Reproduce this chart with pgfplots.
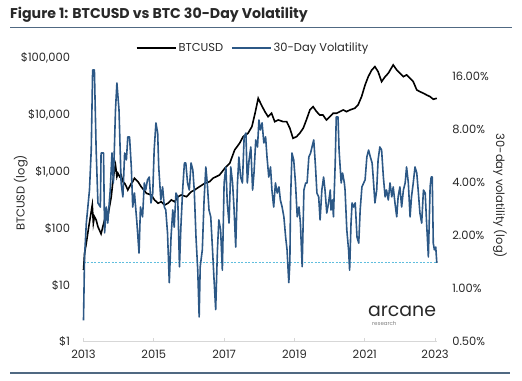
\documentclass[border=0pt]{standalone}
\usepackage{pgfplots}
\pgfplotsset{compat=1.18}
\usepackage{fontspec}
\setmainfont{Poppins}
\definecolor{volblue}{RGB}{44,88,134}
\definecolor{dashblue}{RGB}{95,190,222}
\definecolor{rulecol}{RGB}{80,105,130}
\definecolor{axisgray}{RGB}{215,215,215}
\definecolor{txt}{RGB}{40,40,40}
\begin{document}
\begin{tikzpicture}
\useasboundingbox (0,0) rectangle (522bp,381bp);
\node[anchor=base west, inner sep=0, font=\bfseries\fontsize{14.2}{16}\selectfont, text=txt] at (10bp,362bp) {Figure 1: BTCUSD vs BTC 30-Day Volatility};
\draw[rulecol, line width=1.2bp] (10bp,353.7bp) -- (512bp,353.7bp);
\draw[rulecol, line width=1.2bp] (10bp,8bp) -- (510bp,8bp);
\node[rotate=90, font=\fontsize{11.5}{13}\selectfont, text=txt] at (20.7bp,188bp) {BTCUSD (log)};
\node[rotate=-90, font=\fontsize{11.5}{13}\selectfont, text=txt] at (500bp,185bp) {30-day volatility (log)};

\begin{axis}[
  at={(83.5bp,39.3bp)}, anchor=south west,
  width=353.3bp, height=283.4bp, scale only axis,
  xmin=2013, xmax=2023.05,
  ymode=log, ymin=1, ymax=100000,
  axis x line*=bottom, axis y line*=left,
  x axis line style={axisgray, line width=1bp, -},
  y axis line style={draw=none},
  xtick={2013,2015,2017,2019,2021,2023},
  xticklabels={2013,2015,2017,2019,2021,2023},
  tick align=inside, major tick length=4bp,
  xtick style={axisgray, line width=1bp},
  ytick style={draw=none},
  ytick={1,10,100,1000,10000,100000},
  yticklabels={\$1,\$10,\$100,{\$1,000},{\$10,000},{\$100,000}},
  yticklabel style={font=\fontsize{11.5}{13}\selectfont, text=txt, xshift=-10bp},
  xticklabel style={font=\fontsize{11.5}{13}\selectfont, text=txt, yshift=-5bp},
  clip=false,
]
\addplot[black, line width=1.6bp] coordinates {
(2013.00,18.4) (2013.03,36) (2013.08,55) (2013.15,107) (2013.25,258) (2013.28,123)
(2013.31,161) (2013.36,141) (2013.41,107) (2013.50,80) (2013.55,107) (2013.60,141)
(2013.65,155) (2013.69,161) (2013.74,241) (2013.79,362) (2013.83,624) (2013.88,1071)
(2013.91,1312) (2013.95,816) (2013.98,937) (2014.03,816) (2014.07,874) (2014.12,666)
(2014.17,624) (2014.22,543) (2014.26,475) (2014.31,543) (2014.36,624) (2014.40,666)
(2014.45,764) (2014.50,713) (2014.55,666) (2014.64,543) (2014.79,415) (2014.93,388)
(2015.02,317) (2015.12,277) (2015.21,295) (2015.31,258) (2015.40,277) (2015.50,317)
(2015.59,295) (2015.69,362) (2015.78,388) (2015.93,362) (2016.07,444) (2016.16,475)
(2016.30,543) (2016.45,624) (2016.59,666) (2016.68,764) (2016.87,874) (2017.02,1148)
(2017.16,1406) (2017.30,2415) (2017.44,3170) (2017.54,4143) (2017.68,4757) (2017.79,6223)
(2017.88,10720) (2017.97,19720) (2018.06,15030) (2018.16,11450) (2018.25,9340) (2018.35,10720)
(2018.44,7620) (2018.54,8170) (2018.68,7620) (2018.78,7620) (2018.87,5830) (2018.96,3880)
(2019.06,4143) (2019.15,4757) (2019.25,5830) (2019.34,8170) (2019.44,12270) (2019.53,14030)
(2019.63,11450) (2019.72,10000) (2019.81,10000) (2019.91,8170) (2020.01,9340) (2020.10,10720)
(2020.20,10720) (2020.29,11450) (2020.39,12270) (2020.48,11450) (2020.58,12270) (2020.72,13150)
(2020.81,15030) (2020.91,21050) (2021.01,33860) (2021.10,47450) (2021.20,62270) (2021.29,71280)
(2021.38,58100) (2021.48,38730) (2021.58,47450) (2021.67,54450) (2021.81,76340) (2021.91,62270)
(2022.00,54450) (2022.10,47450) (2022.19,50850) (2022.29,44460) (2022.38,38730) (2022.48,27660)
(2022.57,25780) (2022.67,24160) (2022.76,22550) (2022.86,21050) (2022.95,18930) (2023.05,19720)
};
\end{axis}

\begin{axis}[
  at={(83.5bp,39.3bp)}, anchor=south west,
  width=353.3bp, height=283.4bp, scale only axis,
  xmin=2013, xmax=2023.05,
  ymode=log, log basis y=2, ymin=0.5, ymax=20.2,
  axis x line=none, axis y line*=right,
  y axis line style={draw=none},
  ytick style={draw=none},
  ytick={0.5,1,2,4,8,16},
  yticklabels={0.50\%,1.00\%,2.00\%,4.00\%,8.00\%,16.00\%},
  yticklabel style={font=\fontsize{11.5}{13}\selectfont, text=txt, anchor=west, xshift=12bp},
  legend style={at={(axis description cs:0.48,1.036)}, anchor=center, draw=none, fill=none,
    font=\fontsize{11.5}{13}\selectfont, text=txt, legend columns=2,
    /tikz/every even column/.append style={column sep=6bp}},
  legend image code/.code={\draw[#1] (0bp,0bp) -- (39bp,0bp);},
  clip=false,
]
\addlegendimage{black, line width=1.6bp}
\addlegendentry{BTCUSD}
\addplot[dashblue, line width=0.7bp, dash pattern=on 2bp off 1.5bp, forget plot] coordinates {(2013,1.40) (2023.05,1.40)};
\addplot[volblue, line width=1.6bp, line join=round] coordinates {
(2013.00,0.66) (2013.03,1.51) (2013.08,2.35) (2013.17,3.62) (2013.22,6.10) (2013.26,17.35)
(2013.31,17.35) (2013.36,6.10) (2013.41,3.06) (2013.48,2.90) (2013.50,5.87) (2013.57,5.87)
(2013.60,2.07) (2013.65,2.90) (2013.69,2.35) (2013.76,3.62) (2013.81,5.87) (2013.85,3.97)
(2013.91,10.30) (2013.95,14.64) (2014.01,10.30) (2014.07,3.97) (2014.12,3.31) (2014.17,5.87)
(2014.22,5.36) (2014.26,7.24) (2014.31,7.24) (2014.36,4.89) (2014.40,2.90) (2014.45,3.48)
(2014.52,2.35) (2014.58,1.59) (2014.62,2.90) (2014.68,2.55) (2014.73,3.97) (2014.77,3.62)
(2014.82,4.13) (2014.87,4.29) (2014.92,3.06) (2014.97,3.48) (2015.01,6.10) (2015.06,8.69)
(2015.11,7.62) (2015.14,4.89) (2015.20,3.18) (2015.25,3.77) (2015.30,2.90) (2015.34,2.79)
(2015.39,2.07) (2015.44,1.08) (2015.49,1.96) (2015.54,2.79) (2015.58,2.23) (2015.63,3.48)
(2015.68,3.31) (2015.73,1.33) (2015.77,2.23) (2015.82,3.62) (2015.87,5.15) (2015.91,5.15)
(2015.96,3.97) (2016.01,3.62) (2016.06,5.15) (2016.11,4.70) (2016.15,3.62) (2016.20,1.96)
(2016.25,1.27) (2016.29,0.69) (2016.32,1.33) (2016.38,1.66) (2016.43,3.18) (2016.48,4.89)
(2016.52,3.97) (2016.57,2.79) (2016.62,2.55) (2016.67,1.66) (2016.71,1.16) (2016.76,0.76)
(2016.81,1.66) (2016.85,2.45) (2016.90,2.15) (2016.95,1.27) (2017.00,3.97) (2017.05,4.89)
(2017.09,3.06) (2017.14,2.35) (2017.19,4.89) (2017.24,3.97) (2017.28,2.90) (2017.33,1.72)
(2017.38,3.97) (2017.42,5.57) (2017.47,4.29) (2017.52,3.97) (2017.57,7.24) (2017.62,7.62)
(2017.66,3.97) (2017.71,5.36) (2017.76,6.35) (2017.81,3.62) (2017.85,4.52) (2017.90,6.96)
(2017.95,6.35) (2017.99,9.03) (2018.03,7.93) (2018.08,8.69) (2018.13,6.69) (2018.18,7.24)
(2018.22,5.57) (2018.27,4.29) (2018.32,4.89) (2018.36,3.62) (2018.41,2.90) (2018.46,3.97)
(2018.51,3.48) (2018.56,3.77) (2018.60,3.18) (2018.65,2.90) (2018.70,2.55) (2018.75,1.96)
(2018.79,1.66) (2018.84,1.08) (2018.87,1.40) (2018.89,3.18) (2018.93,5.87) (2018.98,5.36)
(2019.03,3.97) (2019.08,2.55) (2019.13,2.90) (2019.17,2.35) (2019.22,1.33) (2019.27,3.62)
(2019.32,3.97) (2019.36,3.97) (2019.41,5.57) (2019.46,5.87) (2019.50,6.35) (2019.55,6.96)
(2019.60,4.89) (2019.64,3.48) (2019.69,3.31) (2019.73,2.45) (2019.78,3.62) (2019.83,4.29)
(2019.87,3.62) (2019.92,2.68) (2019.97,3.06) (2020.02,3.62) (2020.04,2.79) (2020.08,3.18)
(2020.11,2.55) (2020.16,5.15) (2020.19,9.40) (2020.24,9.40) (2020.27,6.10) (2020.33,3.97)
(2020.37,4.52) (2020.42,3.97) (2020.44,3.62) (2020.49,2.15) (2020.54,1.66) (2020.57,1.27)
(2020.61,2.35) (2020.64,3.06) (2020.68,2.90) (2020.73,3.06) (2020.78,1.96) (2020.83,1.81)
(2020.87,2.79) (2020.92,3.77) (2020.97,3.97) (2021.01,4.13) (2021.06,5.57) (2021.11,6.10)
(2021.16,5.57) (2021.21,5.15) (2021.24,4.29) (2021.29,3.06) (2021.34,3.62) (2021.38,5.36)
(2021.43,6.35) (2021.48,6.10) (2021.53,4.29) (2021.58,3.31) (2021.62,3.62) (2021.67,3.18)
(2021.72,3.97) (2021.77,3.31) (2021.81,3.77) (2021.86,3.06) (2021.91,2.55) (2021.95,3.31)
(2022.00,3.77) (2022.05,2.90) (2022.10,3.62) (2022.15,3.97) (2022.19,4.89) (2022.24,3.97)
(2022.29,2.55) (2022.33,3.31) (2022.38,3.97) (2022.43,4.89) (2022.48,4.52) (2022.52,3.62)
(2022.57,2.68) (2022.62,2.35) (2022.67,3.62) (2022.72,3.48) (2022.76,2.35) (2022.81,1.51)
(2022.86,3.77) (2022.89,4.29) (2022.92,4.29) (2022.95,1.81) (2022.98,1.66) (2023.02,1.72)
(2023.05,1.40)
};
\addlegendentry{30-Day Volatility}
\end{axis}

\node[font=\fontsize{19}{20}\selectfont, text=txt, anchor=base, inner sep=0] at (402bp,64.5bp) {arcane};
\node[font=\fontsize{5.5}{6}\selectfont, text=gray, anchor=base west, inner sep=0] at (372bp,55bp) {research};
\end{tikzpicture}
\end{document}
